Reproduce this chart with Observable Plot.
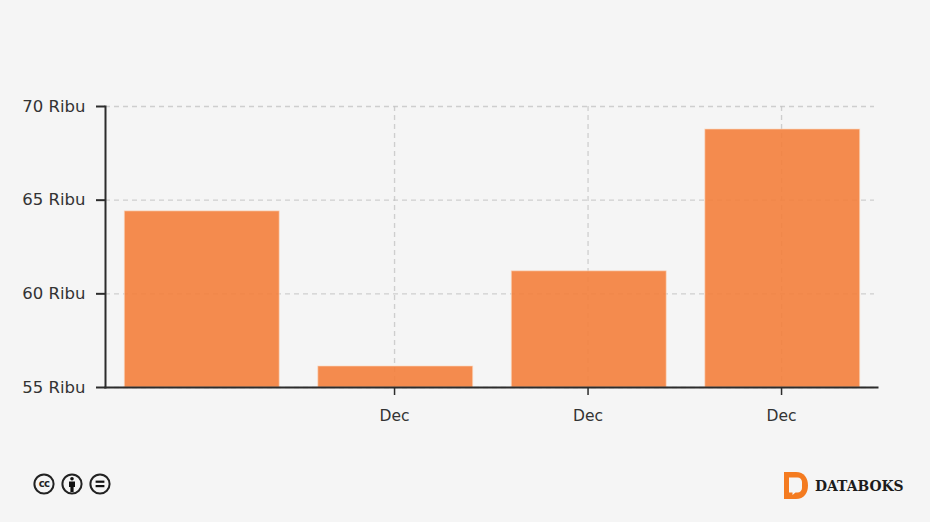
<!DOCTYPE html>
<html>
<head>
<meta charset="utf-8">
<script src="https://cdn.jsdelivr.net/npm/d3@7"></script>
<script src="https://cdn.jsdelivr.net/npm/@observablehq/plot@0.6"></script>
<style>
html,body{margin:0;padding:0;background:#f5f5f5;}
#page{position:relative;width:930px;height:522px;overflow:hidden;background:#f5f5f5;}
#chart svg{display:block;background:transparent;}
#cc{position:absolute;left:32px;top:472px;width:82px;height:24px;}
#logo{position:absolute;left:783px;top:472px;width:26px;height:27px;}
#brand{position:absolute;left:815px;top:476px;font:bold 13.9px/20px "DejaVu Serif",serif;color:#1c1c1c;}
</style>
</head>
<body>
<div id="page">
<div id="chart"></div>
<svg id="cc" viewBox="0 0 82 24">
  <g fill="none" stroke="#222" stroke-width="2">
    <circle cx="12" cy="12" r="9.6"/><circle cx="40" cy="12" r="9.6"/><circle cx="68" cy="12" r="9.6"/>
  </g>
  <text x="12" y="15.2" text-anchor="middle" font-family="DejaVu Sans" font-weight="bold" font-size="10" letter-spacing="-0.6" fill="#222">cc</text>
  <g fill="#111">
    <circle cx="40" cy="6.8" r="1.8"/>
    <path d="M37 9.4h6v5.6h-1.400v5h-3.200v-5H37z"/>
    <rect x="63.600" y="8.600" width="8.800" height="2.200"/><rect x="63.600" y="13" width="8.800" height="2.200"/>
  </g>
</svg>
<svg id="logo" viewBox="0 0 26 27">
  <path fill="#f47b20" d="M1 0H13C21 0 25 6 25 13.500C25 21 21 27 13 27H1Z"/>
  <path fill="#f5f5f5" d="M6 5.500H14.500C17 5.500 19 7.500 19 10V16C19 18.500 17 20.500 14.500 20.500H12.500L9.500 23V20.500H6Z"/>
</svg>
<div id="brand">DATABOKS</div>
</div>
<script>
const periods = [0, 1, 2, 3];
const tickLabels = ["", "Dec", "Dec", "Dec"];
const values = [64.4, 56.12, 61.2, 68.77];
const yTicks = [55, 60, 65, 70];
const yDomain = [55, 70];
const rows = periods.map((p, i) => ({period: p, value: values[i]}));
const labelFont = '"DejaVu Sans", sans-serif';

const plot = Plot.plot({
  width: 930,
  height: 430,
  marginTop: 106,
  marginBottom: 43,
  marginLeft: 105,
  marginRight: 51,
  style: {background: "transparent", fontFamily: labelFont, fontSize: "15px", color: "#333"},
  x: {type: "band", domain: periods, paddingInner: 0.2, paddingOuter: 0.1, align: 0.5, round: false, label: null},
  y: {domain: yDomain, label: null},
  marks: [
    Plot.gridY(yTicks, {stroke: "#c4c4c4", strokeOpacity: 0.8, strokeWidth: 1.3, strokeDasharray: "5 4", insetRight: 5}),
    Plot.gridX(periods.slice(1), {stroke: "#c4c4c4", strokeOpacity: 0.8, strokeWidth: 1.3, strokeDasharray: "5 4", dx: -1.2}),
    Plot.barY(rows, {
      x: "period", y1: () => yDomain[0], y2: "value",
      fill: "#f47f3c", fillOpacity: 0.9, stroke: "#fbd3b8", strokeWidth: 1, strokeOpacity: 0.6
    }),
    Plot.frame({anchor: "left", stroke: "#2c2c2c", strokeWidth: 2}),
    Plot.frame({anchor: "bottom", stroke: "#2c2c2c", strokeWidth: 2, insetRight: 2}),
    Plot.axisY({
      ticks: yTicks, tickSize: 9, tickPadding: 11, strokeWidth: 2, stroke: "#2c2c2c",
      tickFormat: d => `${d} Ribu`, fill: "#333", fontSize: 16.5, label: null,
      style: {letterSpacing: "0.4px"}
    }),
    Plot.axisX({
      ticks: periods.slice(1), tickSize: 8, tickPadding: 14, strokeWidth: 1.5, stroke: "#2c2c2c", dx: -1.2,
      tickFormat: d => tickLabels[d], fill: "#333", fontSize: 15.5, label: null
    })
  ]
});
document.getElementById("chart").appendChild(plot);
</script>
</body>
</html>
